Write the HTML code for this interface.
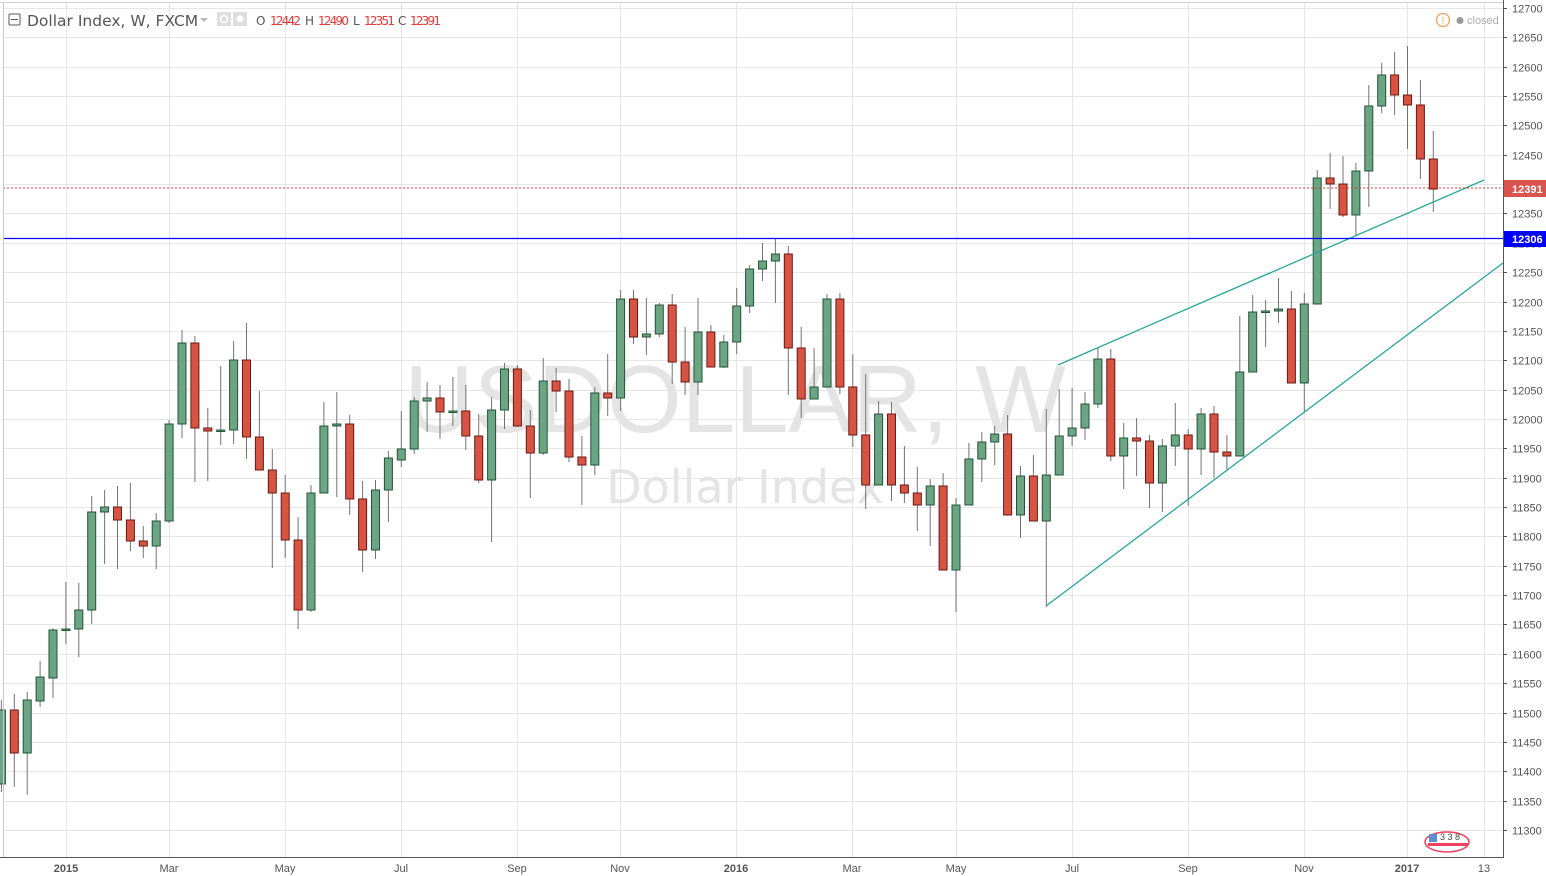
<!DOCTYPE html>
<html><head><meta charset="utf-8"><style>
html,body{margin:0;padding:0;background:#fff;width:1546px;height:876px;overflow:hidden}
svg{display:block;font-family:"Liberation Sans","DejaVu Sans",sans-serif}
</style></head><body>
<svg id="c" width="1546" height="876" xmlns="http://www.w3.org/2000/svg">
<rect x="0" y="0" width="1546" height="876" fill="#fff"/>
<g id="grid"></g>
<text x="735" y="432" font-size="96" fill="#e4e4e4" text-anchor="middle">USDOLLAR, W</text>
<text x="745" y="503" font-size="46" fill="#e4e4e4" text-anchor="middle" font-family="DejaVu Sans, sans-serif">Dollar Index</text>
<g id="candles"></g>
<line x1="1058" y1="365" x2="1484" y2="180" stroke="#26a69a" stroke-width="1.3"/>
<line x1="1046" y1="606" x2="1503" y2="263" stroke="#26a69a" stroke-width="1.3"/>
<line x1="3" y1="188" x2="1503" y2="188" stroke="#e53935" stroke-width="1" stroke-dasharray="2,2"/>
<line x1="3" y1="238.5" x2="1503" y2="238.5" stroke="#0000ff" stroke-width="1.2"/>
<rect x="0" y="0" width="1546" height="3" fill="#fff"/>
<line x1="0" y1="2.5" x2="1503" y2="2.5" stroke="#d0d0d8"/>
<line x1="3.5" y1="2" x2="3.5" y2="858" stroke="#c8c8d0"/>
<rect x="1504" y="0" width="42" height="876" fill="#fff"/>
<rect x="0" y="858" width="1546" height="18" fill="#fff"/>
<line x1="1503.5" y1="0" x2="1503.5" y2="858" stroke="#555"/>
<line x1="0" y1="857.5" x2="1504" y2="857.5" stroke="#555"/>
<g id="ylab" font-size="11" fill="#555"></g>
<g font-size="11" fill="#555" text-anchor="middle">
<text x="66" y="872" font-weight="bold">2015</text>
<text x="169" y="872">Mar</text>
<text x="285" y="872">May</text>
<text x="401" y="872">Jul</text>
<text x="517" y="872">Sep</text>
<text x="620" y="872">Nov</text>
<text x="736" y="872" font-weight="bold">2016</text>
<text x="852" y="872">Mar</text>
<text x="956" y="872">May</text>
<text x="1072" y="872">Jul</text>
<text x="1188" y="872">Sep</text>
<text x="1304" y="872">Nov</text>
<text x="1407" y="872" font-weight="bold">2017</text>
<text x="1484" y="872">13</text>
</g>
<rect x="1504" y="180" width="42" height="17" fill="#d9534f"/>
<text x="1512" y="193" font-size="11" font-weight="bold" fill="#fff">12391</text>
<rect x="1504" y="231" width="42" height="16" fill="#0000ff"/>
<text x="1512" y="243" font-size="11" font-weight="bold" fill="#fff">12306</text>
<rect x="9" y="14" width="11" height="11" fill="none" stroke="#555" rx="1"/>
<line x1="11" y1="19.5" x2="18" y2="19.5" stroke="#555"/>
<text x="27" y="26" font-size="15.5" fill="#555" font-family="DejaVu Sans, sans-serif">Dollar Index, W, FXCM</text>
<path d="M200 18 l4 4 l4 -4z" fill="#bbb"/>
<rect x="217" y="12" width="14" height="14" fill="#ddd"/>
<circle cx="224" cy="19" r="3.5" fill="none" stroke="#fff" stroke-width="1.5"/>
<rect x="233" y="12" width="14" height="14" fill="#ddd"/>
<circle cx="240" cy="19" r="3.5" fill="#fff"/>
<g font-size="12" font-family="DejaVu Sans, sans-serif">
<text x="256" y="25" fill="#555">O</text><text x="270" y="25" fill="#e53935" textLength="31">12442</text>
<text x="305" y="25" fill="#555">H</text><text x="318" y="25" fill="#e53935" textLength="31">12490</text>
<text x="353" y="25" fill="#555">L</text><text x="364" y="25" fill="#e53935" textLength="31">12351</text>
<text x="398" y="25" fill="#555">C</text><text x="410" y="25" fill="#e53935" textLength="31">12391</text>
</g>
<circle cx="1443" cy="20" r="6.5" fill="none" stroke="#f5a05a" stroke-width="1.3"/>
<text x="1443" y="24" font-size="10" fill="#f5a05a" text-anchor="middle">!</text>
<circle cx="1460" cy="20.5" r="3.5" fill="#999"/>
<text x="1467" y="24" font-size="11" fill="#aaa">closed</text>
<g>
<ellipse cx="1447" cy="842" rx="22" ry="10" fill="none" stroke="#f04060" stroke-width="1.5"/>
<rect x="1429" y="834" width="8" height="8" fill="#5b8fd8"/>
<rect x="1428" y="843" width="40" height="3" fill="#f04060"/>
<text x="1440" y="840" font-size="9" fill="#444">3 3 8</text>
</g>
</svg>
<script>
(function(){
var NS="http://www.w3.org/2000/svg";
function el(t,a,p){var e=document.createElementNS(NS,t);for(var k in a)e.setAttribute(k,a[k]);p.appendChild(e);return e;}
var g=document.getElementById('grid'),yl=document.getElementById('ylab');
for(var p=11300;p<=12700;p+=50){var y=8+(12700-p)*0.5871;y=Math.round(y)+0.5;
 el('line',{x1:3,y1:y,x2:1503,y2:y,stroke:'#e6e6e6'},g);
 var t=el('text',{x:1512,y:y+4},yl);t.textContent=p;
 el('line',{x1:1503,y1:y,x2:1507,y2:y,stroke:'#555'},yl);}
[66,169,285,401,517,620,736,852,956,1072,1188,1304,1407,1484].forEach(function(x){
 el('line',{x1:x+0.5,y1:3,x2:x+0.5,y2:857,stroke:'#e6e6e6'},g);});
var D=[[700,784,710,792],[694,710,753,787],[692,753,700,795],[661,701,677,707],[628,678,630,698],
[582,630,629,644],[583,629,610,657],[496,610,512,624],[490,512,507,564],[486,507,520,569],
[483,520,541,551],[526,541,546,558],[513,546,521,569],[420,521,424,523],[330,424,343,438],
[336,343,428,482],[408,428,431,481],[366,431,430,445],[341,430,360,444],[323,360,437,459],
[391,437,470,470],[449,470,493,568],[475,493,540,558],[517,540,610,629],[485,610,493,612],
[402,493,426,493],[392,426,424,497],[415,424,499,515],[481,499,550,572],[480,550,490,559],
[451,490,458,522],[411,460,449,467],[397,449,401,454],[382,401,398,432],[385,398,412,439],
[377,412,411,426],[385,411,436,450],[414,436,480,483],[397,480,410,542],[363,410,369,429],
[365,369,426,427],[410,426,453,498],[358,453,381,455],[368,381,391,412],[379,391,457,462],
[436,457,465,505],[387,465,393,475],[354,393,398,416],[290,398,299,411],[290,299,337,344],
[298,337,334,355],[303,334,305,337],[294,305,362,384],[327,362,382,395],[298,382,332,395],
[325,332,367,367],[335,367,342,368],[288,342,306,354],[265,306,269,313],[243,269,261,281],
[238,261,254,303],[246,254,348,395],[327,348,399,418],[348,399,387,399],[294,387,299,387],
[293,299,387,394],[354,387,435,447],[374,435,485,509],[401,485,414,485],[402,414,485,501],
[446,485,493,503],[467,493,505,531],[479,505,486,546],[473,486,570,570],[498,570,505,612],
[443,505,459,505],[432,459,442,482],[426,442,434,465],[415,434,515,515],[466,515,476,538],
[455,476,521,521],[409,521,475,607],[389,475,436,475],[388,436,428,446],[392,428,404,440],
[348,404,359,408],[349,359,456,461],[423,456,438,489],[418,438,441,476],[435,441,483,508],
[439,483,446,512],[403,446,435,466],[429,435,449,506],[408,449,414,475],[406,414,452,478],
[435,452,456,471],[316,456,372,456],[295,372,312,372],[300,312,311,347],[278,311,309,323],
[291,309,383,383],[293,383,304,412],[170,304,178,304],[153,178,184,209],[156,184,215,217],
[163,215,171,235],[85,171,106,207],[63,106,75,113],[52,75,95,115],[46,95,105,149],
[80,105,159,179],[131,159,189,212]];
var flatGreen={5:1,17:1,35:1};
var cg=document.getElementById('candles');
D.forEach(function(d,i){
 var x=1.4+12.9*i;var hi=d[0],o=d[1],c=d[2],lo=d[3];
 var green=c<o||flatGreen[i];
 el('line',{x1:x,y1:hi,x2:x,y2:lo,stroke:'#737373','stroke-width':1},cg);
 var top=Math.min(o,c),h=Math.max(Math.abs(o-c),1.5);
 el('rect',{x:x-4,y:top,width:8,height:h,fill:green?'#6ba583':'#d75442',stroke:green?'#225437':'#6b1713','stroke-width':1},cg);
});
})();
</script>
</body></html>
